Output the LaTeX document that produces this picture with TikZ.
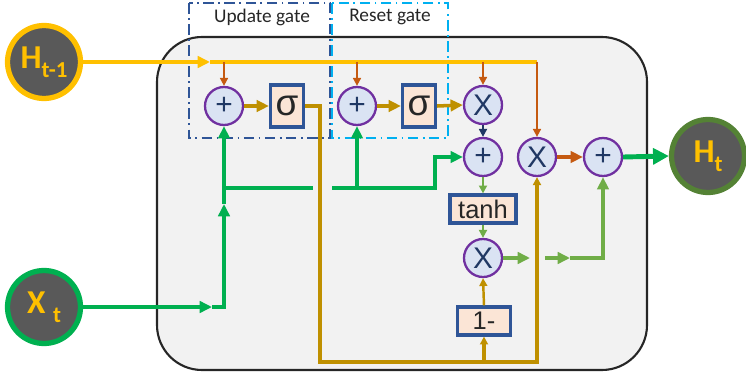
\documentclass[tikz,border=0pt]{standalone}
\usepackage{fontspec}
\setmainfont{Carlito}
\newfontfamily\arialfont{Liberation Sans}
\usetikzlibrary{arrows.meta}
\definecolor{cYellow}{HTML}{FFC000}
\definecolor{cOrange}{HTML}{C55A11}
\definecolor{cGold}{HTML}{BF9000}
\definecolor{cGreen}{HTML}{00B050}
\definecolor{cLGreen}{HTML}{70AD47}
\definecolor{cOlive}{HTML}{548235}
\definecolor{cNavy}{HTML}{2F5597}
\definecolor{cNavyText}{HTML}{203864}
\definecolor{cPurple}{HTML}{7030A0}
\definecolor{cOpFill}{HTML}{DAE3F3}
\definecolor{cBoxFill}{HTML}{FBE5D6}
\definecolor{cBack}{HTML}{F2F2F2}
\definecolor{cDark}{HTML}{595959}
\definecolor{cSky}{HTML}{00B0F0}

\begin{document}
\begin{tikzpicture}[x=0.02cm,y=-0.02cm,
    op/.style={circle,draw=cPurple,fill=cOpFill,line width=1.3pt,minimum size=0.76cm,inner sep=0pt,text=cNavyText,font=\arialfont\fontsize{17}{17}\selectfont},
    fn/.style={rectangle,draw=cNavy,fill=cBoxFill,line width=1.8pt,inner sep=0pt,text=black!85,font=\arialfont\fontsize{14.5}{14.5}\selectfont},
    io/.style={circle,fill=cDark,line width=3pt,minimum size=1.46cm,inner sep=0pt,text=cYellow,font=\bfseries},
    gatebox/.style={line width=1pt,dash pattern=on 6pt off 2.5pt on 1pt off 2.5pt},
    yline/.style={draw=cYellow,line width=2.2pt},
    orline/.style={draw=cOrange,line width=1pt,-{Triangle[length=4.5pt,width=4.5pt]}},
    gdline/.style={draw=cGold,line width=2pt},
    grline/.style={draw=cGreen,line width=2.4pt},
    lgline/.style={draw=cLGreen,line width=1.8pt},
    bigtip/.style={-{Triangle[length=9pt,width=9pt]}},
    midtip/.style={-{Triangle[length=7pt,width=6.5pt]}},
    smalltip/.style={-{Triangle[length=4.5pt,width=4.5pt]}}]
    \useasboundingbox (0,0) rectangle (746,375);

    % cell and gates
    \draw[fill=cBack,draw=black!85,line width=1.2pt,rounded corners=0.9cm] (157,37) rectangle (647,370);
    \draw[gatebox,cNavy] (189,3) rectangle (330,138);
    \draw[gatebox,cSky] (332,3) rectangle (448,138);
    \node[text=black!85,font=\fontsize{11}{12}\selectfont] (UG) at (262,17) {Update gate};
    \node[text=black!85,font=\fontsize{11}{12}\selectfont] (RG) at (390,17) {Reset gate};

    % inputs and output
    \node[io,draw=cYellow] (Hp) at (44,62) {{\fontsize{19}{19}\selectfont H}{\fontsize{13}{13}\selectfont\raisebox{-5pt}{t-1}}};
    \node[io,draw=cGreen] (Xt) at (44,307) {{\fontsize{19}{19}\selectfont X }{\fontsize{13}{13}\selectfont\raisebox{-5pt}{t}}};
    \node[io,draw=cOlive] (Ht) at (708,156) {{\fontsize{19}{19}\selectfont H}{\fontsize{13}{13}\selectfont\raisebox{-5pt}{t}}};

    % operations
    \node[op] (P1) at (224,106) {+};
    \node[fn,minimum width=0.66cm,minimum height=0.84cm,font=\arialfont\fontsize{21}{21}\selectfont] (S1) at (287,106) {σ};
    \node[op] (P2) at (357,106) {+};
    \node[fn,minimum width=0.66cm,minimum height=0.84cm,font=\arialfont\fontsize{21}{21}\selectfont] (S2) at (419,106) {σ};
    \node[op] (M1) at (483,105) {X};
    \node[op] (P3) at (483,157) {+};
    \node[op] (M2) at (537,157) {X};
    \node[op] (P4) at (603,157) {+};
    \node[fn,minimum width=1.32cm,minimum height=0.56cm] (T1) at (483,209) {tanh};
    \node[op] (M3) at (483,258) {X};
    \node[fn,minimum width=1.06cm,minimum height=0.56cm] (O1) at (484,321) {1-};

    % previous state
    \coordinate (ya) at (210,62);
    \coordinate (yb) at (M2 |- Hp);
    \draw[yline,midtip] (Hp.east) -- (ya);
    \draw[yline] (ya) -- (yb);
    \draw[orline] (P1 |- Hp) -- (P1.north);
    \draw[orline] (P2 |- Hp) -- (P2.north);
    \draw[orline] (M1 |- Hp) -- (M1.north);
    \draw[orline] (yb) -- (M2.north);

    % input
    \coordinate (g1) at (212,307);
    \coordinate (g2) at (P1 |- Xt);
    \coordinate (g3) at (224,204);
    \coordinate (g4) at (224,188);
    \coordinate (g5) at (313,188);
    \coordinate (g6) at (332,188);
    \coordinate (g7) at (435,188);
    \draw[grline,midtip] (Xt.east) -- (g1);
    \draw[grline,midtip] (g1) -- (g2) -- (g3);
    \draw[grline,midtip] (g3) -- (P1.south);
    \draw[grline] (g4) -- (g5);
    \draw[grline,midtip] (g6) -- (g7) |- (P3.west);
    \draw[grline,midtip] (P2 |- g6) -- (P2.south);

    % gates
    \coordinate (gd1) at (320,362);
    \draw[gdline,midtip] (P1.east) -- (S1.west);
    \draw[gdline,midtip] (P2.east) -- (S2.west);
    \draw[gdline,midtip] (S2.east) -- (M1.west);
    \draw[gdline,smalltip] (S1.east) -| (gd1) -| (M2.south);
    \draw[gdline,smalltip] (O1.south |- gd1) -- (O1.south);
    \draw[gdline,line width=1.4pt,smalltip] (O1.north) -- (M3.south);

    % candidate and output
    \coordinate (lgA) at (530,258);
    \coordinate (lgB) at (545,258);
    \coordinate (lgC) at (570,258);
    \draw[cNavyText,line width=1.1pt,smalltip] (M1.south) -- (P3.north);
    \draw[lgline,line width=1.4pt,smalltip] (P3.south) -- (T1.north);
    \draw[lgline,line width=1.4pt,smalltip] (T1.south) -- (M3.north);
    \draw[lgline,midtip] (M3.east) -- (lgA);
    \draw[lgline,midtip] (lgB) -- (lgC);
    \draw[lgline,midtip] (lgC) -| (P4.south);
    \draw[cOrange,line width=2pt,midtip] (M2.east) -- (P4.west);
    \draw[grline,line width=2.8pt,bigtip] (P4.east) -- (Ht.west);
\end{tikzpicture}
\end{document}
